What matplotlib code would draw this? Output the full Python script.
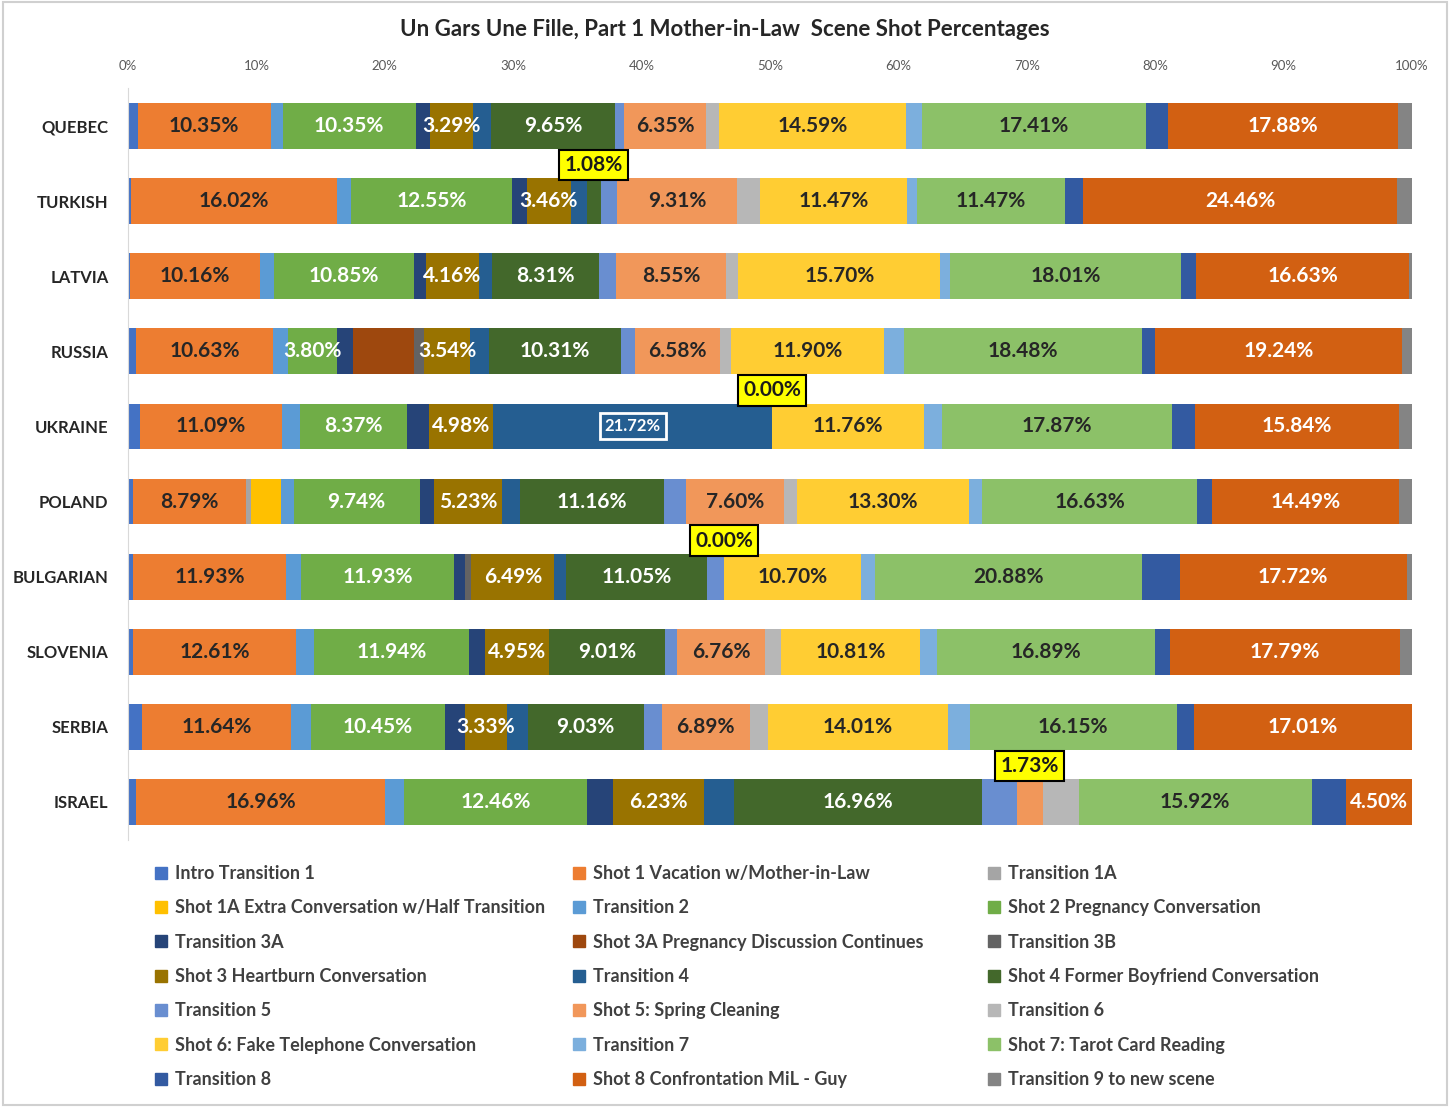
import numpy as np
import matplotlib.pyplot as plt
from matplotlib.patches import Patch, Rectangle

plt.rcParams['font.family'] = ['Lato', 'DejaVu Sans']

countries = ["QUEBEC", "TURKISH", "LATVIA", "RUSSIA", "UKRAINE",
             "POLAND", "BULGARIAN", "SLOVENIA", "SERBIA", "ISRAEL"]

series = ["Intro Transition 1", "Shot 1 Vacation w/Mother-in-Law", "Transition 1A",
          "Shot 1A Extra Conversation w/Half Transition", "Transition 2",
          "Shot 2 Pregnancy Conversation", "Transition 3A",
          "Shot 3A Pregnancy Discussion Continues", "Transition 3B",
          "Shot 3 Heartburn Conversation", "Transition 4",
          "Shot 4 Former Boyfriend Conversation", "Transition 5",
          "Shot 5: Spring Cleaning", "Transition 6",
          "Shot 6: Fake Telephone Conversation", "Transition 7",
          "Shot 7: Tarot Card Reading", "Transition 8",
          "Shot 8 Confrontation MiL - Guy", "Transition 9 to new scene"]

colors = ["#4472C4", "#ED7D31", "#A5A5A5", "#FFC000", "#5B9BD5", "#70AD47",
          "#264478", "#9E480E", "#636363", "#997300", "#255E91", "#43682B",
          "#698ED0", "#F1975A", "#B7B7B7", "#FFCD33", "#7CAFDD", "#8CC168",
          "#335AA1", "#D26012", "#848484"]

# one list per country, in the series order above
quebec    = [0.75, 10.35, 0, 0, 0.95, 10.35, 1.15, 0, 0, 3.29, 1.45, 9.65, 0.70, 6.35, 1.00, 14.59, 1.25, 17.41, 1.75, 17.88, 1.10]
turkish   = [0.25, 16.02, 0, 0, 1.07, 12.55, 1.12, 0, 0, 3.46, 1.22, 1.08, 1.30, 9.31, 1.75, 11.47, 0.80, 11.47, 1.40, 24.46, 1.14]
latvia    = [0.15, 10.16, 0, 0, 1.10, 10.85, 0.95, 0, 0, 4.16, 1.00, 8.31, 1.35, 8.55, 1.00, 15.70, 0.80, 18.01, 1.15, 16.63, 0.20]
russia    = [0.65, 10.63, 0, 0, 1.16, 3.80, 1.25, 4.75, 0.80, 3.54, 1.45, 10.31, 1.07, 6.58, 0.90, 11.90, 1.55, 18.48, 0.98, 19.24, 0.75]
ukraine   = [0.90, 11.09, 0, 0, 1.35, 8.37, 1.70, 0, 0, 4.98, 21.72, 0, 0, 0, 0, 11.76, 1.46, 17.87, 1.78, 15.84, 1.04]
poland    = [0.35, 8.79, 0.42, 2.26, 1.03, 9.74, 1.13, 0, 0, 5.23, 1.39, 11.16, 1.77, 7.60, 0.97, 13.30, 1.07, 16.63, 1.20, 14.49, 0.97]
bulgarian = [0.42, 11.93, 0, 0, 1.17, 11.93, 0.87, 0, 0.48, 6.49, 0.90, 11.05, 1.30, 0, 0, 10.70, 1.07, 20.88, 2.93, 17.72, 0.42]
slovenia  = [0.40, 12.61, 0, 0, 1.40, 11.94, 1.25, 0, 0, 4.95, 0, 9.01, 0.93, 6.76, 1.25, 10.81, 1.25, 16.89, 1.17, 17.79, 0.93]
serbia    = [1.07, 11.64, 0, 0, 1.55, 10.45, 1.55, 0, 0, 3.33, 1.60, 9.03, 1.40, 6.89, 1.44, 14.01, 1.70, 16.15, 1.34, 17.01, 0]
israel    = [0.57, 16.96, 0, 0, 1.36, 12.46, 1.78, 0, 0, 6.23, 2.05, 16.96, 2.40, 1.73, 2.47, 0, 0, 15.92, 2.36, 4.50, 0]

rows = [quebec, turkish, latvia, russia, ukraine, poland, bulgarian, slovenia, serbia, israel]

labelled = [1, 5, 9, 11, 13, 15, 17, 19]
white_text = [5, 9, 10, 11, 19]
callouts = [("TURKISH", 11), ("UKRAINE", 11), ("BULGARIAN", 13), ("ISRAEL", 13)]

raw = np.array(rows, dtype=float)
share = raw / raw.sum(axis=1, keepdims=True) * 100   # 100% stacked like Excel
starts = np.cumsum(share, axis=1) - share

fig = plt.figure(figsize=(14.5, 11.07), dpi=100)
fig.add_artist(Rectangle((0.002, 0.002), 0.996, 0.996, transform=fig.transFigure,
                         fill=False, ec="#D0D0D0", lw=1.5))
ax = fig.add_axes([128 / 1450, 1 - 839.5 / 1107, 1284 / 1450, 751 / 1107])

y = np.arange(len(countries))
for j, name in enumerate(series):
    ax.barh(y, share[:, j], left=starts[:, j], height=0.61, color=colors[j], label=name)

for i in range(len(countries)):
    for j in range(len(series)):
        v = raw[i, j]
        xc = starts[i, j] + share[i, j] / 2
        tc = "white" if j in white_text else "#262626"
        if j in labelled and v >= 2:
            ax.text(xc, i, f"{v:.2f}%", ha="center", va="center", fontsize=15,
                    fontweight="bold", color=tc)
        elif j not in labelled and v > 5:
            ax.text(xc, i, f"{v:.2f}%", ha="center", va="center", fontsize=12,
                    fontweight="bold", color="white",
                    bbox=dict(boxstyle="square,pad=0.3", fc="none", ec="white", lw=2))

for name, j in callouts:
    i = countries.index(name)
    xc = starts[i, j] + share[i, j] / 2
    ax.text(xc, i - 0.48, f"{raw[i, j]:.2f}%", ha="center", va="center", fontsize=15,
            fontweight="bold", color="#1a1a1a",
            bbox=dict(boxstyle="square,pad=0.25", fc="#FFFF00", ec="black", lw=1.5))

ax.set_xlim(0, 100)
ax.set_ylim(len(countries) - 0.5, -0.5)
ax.set_yticks(y)
ax.set_yticklabels(countries, fontsize=12, fontweight="bold", color="#262626")
ax.set_xticks(np.arange(0, 101, 10))
ax.set_xticklabels([f"{t}%" for t in range(0, 101, 10)], fontsize=9.5, color="#595959")
ax.xaxis.tick_top()
ax.tick_params(axis="y", length=0, pad=14)
ax.tick_params(axis="x", length=0, pad=12)
for s in ["top", "right", "bottom"]:
    ax.spines[s].set_visible(False)
ax.spines["left"].set_color("#D9D9D9")

fig.text(0.5, 1 - 30 / 1107, "Un Gars Une Fille, Part 1 Mother-in-Law  Scene Shot Percentages",
         ha="center", va="center", fontsize=16, fontweight="bold", color="#262626")

# legend: three columns filled row by row
col_x = [155 / 1450, 573 / 1450, 988 / 1450]
for c in range(3):
    idx = list(range(c, len(series), 3))
    handles = [Patch(color=colors[k]) for k in idx]
    fig.legend(handles, [series[k] for k in idx], loc="upper left",
               bbox_to_anchor=(col_x[c], 1 - 865 / 1107), frameon=False,
               borderpad=0, borderaxespad=0, handlelength=0.65, handleheight=0.65,
               handletextpad=0.45, labelspacing=0.96,
               prop=dict(size=13, weight="bold"), labelcolor="#404040")

fig.savefig("out.png", dpi=100)
